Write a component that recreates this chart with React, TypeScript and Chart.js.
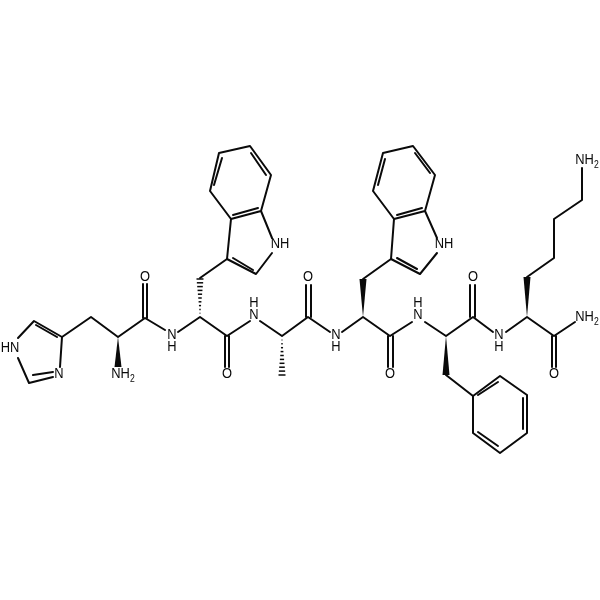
import React, { useEffect, useRef } from "react";
import { Chart, registerables } from "chart.js";

Chart.register(...registerables);

const histidineRing = [[18, 338, 34, 321, 62, 337, 60, 367], [18, 358, 29, 383, 53, 377], [36, 325, 57, 337], [33, 375, 53, 372]];
const histidineChain = [[62, 337, 91, 317, 118, 337, 145, 318, 165, 330], [178, 332, 200, 317, 227, 336, 250, 321], [200, 278, 227, 259]];
const firstIndole = [
  [227, 259, 256, 274, 272, 253], [272, 238, 261, 211, 271, 175, 250, 146, 219, 153, 210, 191, 231, 219, 261, 211],
  [227, 259, 231, 219], [233, 258, 253, 270], [233, 215, 258, 208], [214, 185, 222, 158], [251, 153, 266, 175],
];
const alanineChain = [[260, 321, 282, 336, 308, 317, 330, 332], [342, 332, 363, 317, 390, 336, 412, 322], [363, 279, 391, 259]];
const secondIndole = [
  [391, 259, 420, 274, 437, 253], [437, 238, 425, 211, 435, 175, 413, 146, 383, 153, 373, 191, 394, 219, 425, 211],
  [391, 259, 394, 219], [397, 258, 417, 269], [397, 215, 422, 208], [378, 185, 385, 159], [415, 153, 430, 173],
];
const phenylalanineChain = [[425, 322, 446, 336, 473, 317, 493, 332], [506, 332, 527, 317, 554, 336, 575, 322], [446, 375, 473, 396]];
const benzeneRing = [[473, 396, 500, 376, 527, 395, 527, 433, 500, 453, 473, 433, 473, 396], [478, 395, 498, 382], [523, 398, 523, 429], [478, 432, 498, 446]];
const lysineChain = [[527, 277, 554, 258, 554, 219, 582, 200, 582, 168]];
const carbonylDoubles = [
  [143, 318, 143, 284], [147, 318, 147, 284], [225, 336, 225, 367], [229, 336, 229, 367],
  [306, 317, 306, 285], [311, 317, 311, 285], [388, 336, 388, 367], [393, 336, 393, 367],
  [470, 317, 470, 285], [475, 317, 475, 285], [552, 336, 552, 367], [556, 336, 556, 367],
];
const solidWedges = [[118, 337, 118, 367], [363, 317, 363, 279], [446, 336, 446, 375], [527, 317, 527, 277]];
const hashedWedges = [[200, 317, 200, 279], [282, 336, 282, 375]];

const atomLabels = ["HN", "N", "NH2", "O", "N", "H", "NH", "O", "H", "N", "O", "N", "H", "O", "NH", "H", "N", "O", "N", "H", "NH2", "O", "NH2"];
const atomX = [10, 59, 123, 145, 172, 172, 280, 227, 254, 254, 308, 336, 336, 390, 444, 418, 418, 473, 499, 499, 587, 554, 587];
const atomY = [348, 374, 374, 277, 335, 347, 244, 374, 303, 315, 277, 335, 347, 374, 244, 303, 315, 277, 335, 347, 160, 374, 317];

const allPaths = [
  ...histidineRing, ...histidineChain, ...firstIndole, ...alanineChain, ...secondIndole,
  ...phenylalanineChain, ...benzeneRing, ...lysineChain, ...carbonylDoubles,
];

const INK = "#0a0a0a";
const FONT = '"Liberation Sans", Arial, sans-serif';
const TEXT_SQUEEZE = 0.86;

const moleculePlugin = {
  id: "molecule",
  afterDatasetsDraw(chart: any) {
    const { ctx, scales } = chart;
    const px = (v: number) => scales.x.getPixelForValue(v);
    const py = (v: number) => scales.y.getPixelForValue(v);
    ctx.save();
    ctx.fillStyle = INK;
    ctx.strokeStyle = INK;

    for (const [x1, y1, x2, y2] of solidWedges) {
      const half = 3.5;
      ctx.beginPath();
      ctx.moveTo(px(x1), py(y1));
      ctx.lineTo(px(x2) - half, py(y2));
      ctx.lineTo(px(x2) + half, py(y2));
      ctx.closePath();
      ctx.fill();
    }

    ctx.lineWidth = 1.5;
    for (const [x1, y1, x2, y2] of hashedWedges) {
      const steps = 10;
      for (let i = 1; i <= steps; i++) {
        const t = i / steps;
        const half = 3.5 * t;
        const cx = px(x1) + (px(x2) - px(x1)) * t;
        const cy = py(y1) + (py(y2) - py(y1)) * t;
        ctx.beginPath();
        ctx.moveTo(cx - half, cy);
        ctx.lineTo(cx + half, cy);
        ctx.stroke();
      }
    }

    ctx.textBaseline = "middle";
    ctx.textAlign = "left";
    atomLabels.forEach((label, i) => {
      const main = label.replace("2", "");
      const hasSub = label !== main;
      ctx.font = `15px ${FONT}`;
      const mainWidth = ctx.measureText(main).width;
      ctx.font = `10px ${FONT}`;
      const subWidth = hasSub ? ctx.measureText("2").width : 0;
      ctx.save();
      ctx.translate(px(atomX[i]), py(atomY[i]));
      ctx.scale(TEXT_SQUEEZE, 1);
      const left = -(mainWidth + subWidth) / 2;
      ctx.font = `15px ${FONT}`;
      ctx.fillText(main, left, 0);
      if (hasSub) {
        ctx.font = `10px ${FONT}`;
        ctx.fillText("2", left + mainWidth, 5);
      }
      ctx.restore();
    });
    ctx.restore();
  },
};

export default function App() {
  const ref = useRef<HTMLCanvasElement>(null);
  useEffect(() => {
    if (!ref.current) return;
    const chart = new Chart(ref.current, {
      type: "scatter",
      data: {
        datasets: allPaths.map((path) => ({
          data: path
            .filter((_, i) => i % 2 === 0)
            .map((x, i) => ({ x, y: path[i * 2 + 1] })),
          showLine: true,
          borderColor: INK,
          borderWidth: 2,
          borderCapStyle: "round" as const,
          borderJoinStyle: "round" as const,
          pointRadius: 0,
          pointHoverRadius: 0,
          tension: 0,
          fill: false,
        })),
      },
      options: {
        animation: false,
        responsive: false,
        devicePixelRatio: 1,
        layout: { padding: 0 },
        events: [],
        plugins: { legend: { display: false }, tooltip: { enabled: false }, title: { display: false } },
        scales: {
          x: { type: "linear", min: 0, max: 600, display: false },
          y: { type: "linear", min: 0, max: 600, reverse: true, display: false },
        },
      },
      plugins: [moleculePlugin],
    });
    return () => chart.destroy();
  }, []);
  return (
    <div style={{ position: "fixed", left: 0, top: 0, width: 600, height: 600, background: "#fff" }}>
      <canvas ref={ref} width={600} height={600} style={{ display: "block" }} />
    </div>
  );
}
